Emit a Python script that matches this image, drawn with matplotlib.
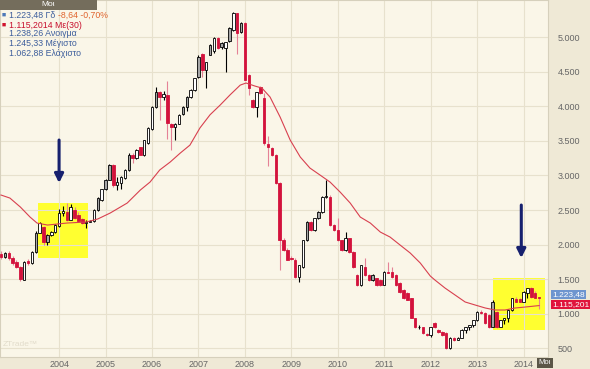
import matplotlib.pyplot as plt
from matplotlib.patches import Rectangle

plt.rcParams['font.family'] = ['Liberation Sans', 'DejaVu Sans']

# μηνιαία κεριά, Οκτ 2002 - Μάιος 2014
opens = [1860, 1825, 1880, 1810, 1750, 1670, 1490, 1760, 1730, 1895,
         2170, 2250, 2035, 2140, 2180, 2270, 2460, 2470, 2360, 2500,
         2430, 2370, 2310, 2330, 2340, 2505, 2650, 2805, 2940, 3150,
         2860, 2890, 2970, 3085, 3300, 3250, 3410, 3300, 3470, 3670,
         3995, 4210, 4140, 4170, 3750, 3700, 3750, 3890, 3995, 4140,
         4240, 4430, 4760, 4530, 4750, 4800, 4990, 4860, 4850, 4950,
         5110, 5350, 5080, 5210, 4460, 4100, 3990, 4280, 4130, 3450,
         3400, 3300, 2890, 2060, 1920, 1800, 1780, 1530, 1670, 2065,
         2330, 2210, 2385, 2470, 2690, 2690, 2280, 2210, 2060, 1920,
         2090, 1890, 1560, 1410, 1670, 1560, 1490, 1510, 1480, 1420,
         1600, 1600, 1560, 1440, 1340, 1300, 1220, 935, 800, 800,
         700, 690, 860, 760, 730, 720, 500, 645, 615, 645,
         760, 800, 830, 900, 1020, 1010, 980, 810, 1020, 800,
         900, 930, 1050, 1210, 1210, 1170, 1300, 1370, 1300, 1238.26]
highs = [1900, 1890, 1900, 1830, 1770, 1690, 1760, 1790, 1900, 2190,
         2330, 2270, 2150, 2200, 2290, 2520, 2560, 2600, 2580, 2540,
         2470, 2390, 2350, 2360, 2510, 2690, 2810, 2950, 3170, 3160,
         2980, 2990, 3090, 3320, 3320, 3380, 3420, 3520, 3700, 4000,
         4280, 4230, 4220, 4370, 3760, 3760, 3890, 4000, 4150, 4250,
         4420, 4740, 4780, 4650, 4900, 5000, 5000, 4940, 4940, 5150,
         5370, 5360, 5220, 5230, 4470, 4110, 4210, 4300, 4190, 3570,
         3420, 3310, 2900, 2100, 1950, 1830, 1800, 1700, 2070, 2340,
         2340, 2390, 2480, 2700, 2930, 2720, 2300, 2380, 2070, 2180,
         2100, 1900, 1570, 1700, 1810, 1570, 1570, 1520, 1500, 1610,
         1750, 1680, 1570, 1450, 1350, 1310, 1230, 940, 830, 810,
         720, 810, 870, 770, 740, 730, 660, 660, 660, 770,
         810, 840, 910, 1040, 1050, 1020, 990, 1200, 1030, 910,
         940, 1060, 1230, 1240, 1220, 1320, 1370, 1380, 1330, 1245.33]
lows = [1790, 1800, 1780, 1710, 1660, 1470, 1480, 1700, 1720, 1880,
        2160, 1990, 2000, 2130, 2170, 2250, 2420, 2340, 2350, 2370,
        2320, 2300, 2240, 2320, 2320, 2490, 2630, 2790, 2930, 2830,
        2790, 2800, 2950, 3070, 3180, 3240, 3290, 3280, 3460, 3660,
        3980, 3800, 4100, 3530, 3370, 3510, 3740, 3880, 3940, 4130,
        4230, 4420, 4430, 4270, 4740, 4780, 4840, 4840, 4500, 4940,
        5100, 4760, 5060, 4380, 4170, 3980, 3850, 4180, 3440, 3140,
        3280, 2880, 1630, 1900, 1770, 1770, 1520, 1460, 1660, 2050,
        2200, 2200, 2370, 2460, 2680, 2270, 2200, 2050, 1910, 1910,
        1880, 1660, 1400, 1400, 1550, 1470, 1470, 1400, 1400, 1410,
        1580, 1520, 1400, 1300, 1210, 1190, 930, 790, 770, 710,
        680, 660, 790, 720, 680, 480, 480, 600, 610, 640,
        720, 760, 800, 890, 990, 850, 790, 800, 790, 820,
        850, 880, 1040, 1160, 1160, 1160, 1230, 1230, 1220, 1062.88]
closes = [1820, 1870, 1800, 1730, 1680, 1500, 1750, 1730, 1890, 2170,
          2310, 2030, 2140, 2180, 2280, 2460, 2480, 2360, 2540, 2390,
          2340, 2310, 2330, 2345, 2500, 2670, 2800, 2935, 3150, 2860,
          2900, 2980, 3080, 3300, 3250, 3370, 3300, 3510, 3690, 3990,
          4210, 4140, 4180, 3760, 3700, 3750, 3880, 3990, 4140, 4240,
          4410, 4720, 4530, 4640, 4890, 4990, 4850, 4920, 4930, 5140,
          5350, 5060, 5210, 4380, 4270, 3990, 4210, 4190, 3470, 3420,
          3300, 2890, 2060, 1920, 1780, 1785, 1530, 1700, 2060, 2330,
          2210, 2380, 2470, 2690, 2700, 2280, 2210, 2060, 1920, 2090,
          1890, 1670, 1410, 1700, 1560, 1480, 1560, 1410, 1420, 1600,
          1590, 1530, 1410, 1310, 1220, 1200, 935, 800, 805, 720,
          690, 800, 800, 730, 690, 500, 645, 615, 645, 760,
          800, 830, 900, 1020, 1010, 860, 800, 1170, 800, 900,
          930, 1050, 1220, 1170, 1170, 1310, 1370, 1240, 1232.12, 1223.48]

# Κινητός μέσος 30 (σημεία διαβασμένα από το γράφημα)
ma_idx = [0, 2.3, 5, 7.5, 9.3, 12, 17, 22, 25, 28.2, 32.6, 36, 38.5, 41, 43.7,
          46.3, 48.8, 51.4, 54, 56.6, 59.2, 61.8, 63.3, 65.6, 67.4, 69.5, 72.1,
          74.7, 77.3, 79.8, 82.4, 85, 87.6, 90.2, 92.8, 95.4, 98, 100.5, 103.1,
          105.7, 108.3, 110.9, 112.1, 114.7, 117.3, 119.9, 122.5, 125.1, 127.6,
          130.2, 132.8, 135.4, 139]
ma_val = [2717, 2673, 2543, 2398, 2311, 2282, 2311, 2326, 2370, 2456, 2601, 2790,
          2905, 3080, 3195, 3325, 3440, 3690, 3880, 4020, 4170, 4310, 4340, 4296,
          4267, 4137, 3847, 3514, 3268, 3108, 3007, 2905, 2760, 2601, 2398, 2311,
          2180, 2108, 1992, 1877, 1732, 1543, 1485, 1369, 1268, 1167, 1123, 1080,
          1051, 1051, 1080, 1094, 1115.2014]

change, change_pct = -8.64, -0.70

years = list(range(2004, 2015))
year_idx = [15 + 12 * k for k in range(len(years))]
y_ticks = [500, 1000, 1500, 2000, 2500, 3000, 3500, 4000, 4500, 5000]

# κίτρινα πλαίσια: (αρχή, τέλος, κάτω, πάνω)
boxes = [(9.6, 22.5, 1804, 2601), (127.1, 140.6, 761, 1514)]
# βέλη: (θέση, αρχή, τέλος)
arrows = [(15, 3514, 2891), (134.4, 2572, 1804)]


def fmt(v, dec=0):
    s = f"{v:,.{dec}f}"
    return s.replace(",", "#").replace(".", ",").replace("#", ".")


W, H = 590, 369
fig = plt.figure(figsize=(W / 100, H / 100), dpi=100)
fig.patch.set_facecolor('#EFE9D6')
ax = fig.add_axes([0, 12 / H, 548 / W, 357 / H])
ax.set_facecolor('#FAF6E8')
ax.set_xlim(-0.26, 141.3)
ax.set_ylim(370, 5543)

ax.set_xticks(year_idx)
ax.set_xticklabels([str(y) for y in years])
ax.set_yticks(y_ticks)
ax.set_yticklabels([fmt(v) for v in y_ticks])
ax.yaxis.tick_right()
ax.grid(color='#E7E1CD', lw=0.8, zorder=0)
ax.tick_params(axis='both', length=0, labelsize=6.5, labelcolor='#666666')
ax.tick_params(axis='y', pad=7)
ax.tick_params(axis='x', pad=2)
for s in ax.spines.values():
    s.set_color('#D6D0BC')
    s.set_linewidth(0.8)

for (a, b, lo, hi) in boxes:
    ax.add_patch(Rectangle((a, lo), b - a, hi - lo, facecolor='#FFFF30',
                           edgecolor='none', zorder=1))

n = len(closes)
xs = list(range(n))
fills, edges, wicks, bottoms, heights = [], [], [], [], []
for i in xs:
    o, c = opens[i], closes[i]
    if c >= o:
        gap = i > 0 and o > closes[i - 1]
        fills.append('#A6A6A6' if gap else 'white')
        edges.append('black')
        wicks.append('black')
    else:
        fills.append('#D3123C')
        edges.append('#D3123C')
        wicks.append('#E58296')
    bottoms.append(min(o, c))
    heights.append(max(abs(c - o), 10))

ax.vlines(xs, lows, highs, colors=wicks, lw=0.8, zorder=2)
ax.bar(xs, heights, bottom=bottoms, width=0.64, color=fills,
       edgecolor=edges, linewidth=0.6, zorder=3)

ax.plot(ma_idx, ma_val, color='#D8404F', lw=0.8, zorder=4)

for (xp, y0, y1) in arrows:
    ax.annotate('', xy=(xp, y1), xytext=(xp, y0),
                arrowprops=dict(arrowstyle='-|>', color='#16206E', lw=2.2,
                                mutation_scale=13, shrinkA=0, shrinkB=0),
                zorder=6)

# ετικέτες τιμών στον δεξιό άξονα
ax.text(1.008, closes[-1] + 45, fmt(closes[-1], 2), transform=ax.get_yaxis_transform(),
        fontsize=6, color='white', va='center', ha='left', clip_on=False, zorder=10,
        bbox=dict(boxstyle='square,pad=0.12', fc='#6E95CF', ec='none'))
ax.text(1.008, ma_val[-1] + 10, fmt(ma_val[-1], 3), transform=ax.get_yaxis_transform(),
        fontsize=6, color='white', va='center', ha='left', clip_on=False, zorder=10,
        bbox=dict(boxstyle='square,pad=0.12', fc='#E0143C', ec='none'))

ax.text(0.005, 0.025, 'ZTrade™', transform=ax.transAxes, fontsize=6,
        color='#E2DCCB', va='bottom')

# επικεφαλίδα και υπόμνημα
fig.add_artist(Rectangle((0, 1 - 10 / H), 97 / W, 10 / H, transform=fig.transFigure,
                         facecolor='#746D5C', edgecolor='none'))
fig.text(48 / W, 1 - 5 / H, 'Μοι', color='white', fontsize=6, ha='center', va='center')


def px(x, y, s, size=6.3, **kw):
    return fig.text(x / W, 1 - y / H, s, va='center', fontsize=size, **kw)


blue = '#3D5E9C'
px(2, 15, '■', size=5, color='#4F79B8')
t1 = px(9, 15, fmt(closes[-1], 2) + ' Γδ', color=blue)
fig.canvas.draw()
x_end = t1.get_window_extent().x1
px(x_end + 3, 15, fmt(change, 2) + ' ' + fmt(change_pct, 2) + '%', color='#E0642E')
px(2, 25, '■', size=5, color='#D0142E')
px(9, 25, fmt(ma_val[-1], 4) + ' Με(30)', color='#C8102E')
px(9, 34, fmt(opens[-1], 2) + ' Ανοιγμα', color=blue)
px(9, 44, fmt(highs[-1], 2) + ' Μέγιστο', color=blue)
px(9, 54, fmt(lows[-1], 2) + ' Ελάχιστο', color=blue)

fig.text(545 / W, 1 - 363 / H, 'Μοι', color='white', fontsize=5.5, ha='center',
         va='center', bbox=dict(boxstyle='square,pad=0.2', fc='#5B5647', ec='none'))

fig.savefig('out.png', dpi=100, facecolor=fig.get_facecolor())
